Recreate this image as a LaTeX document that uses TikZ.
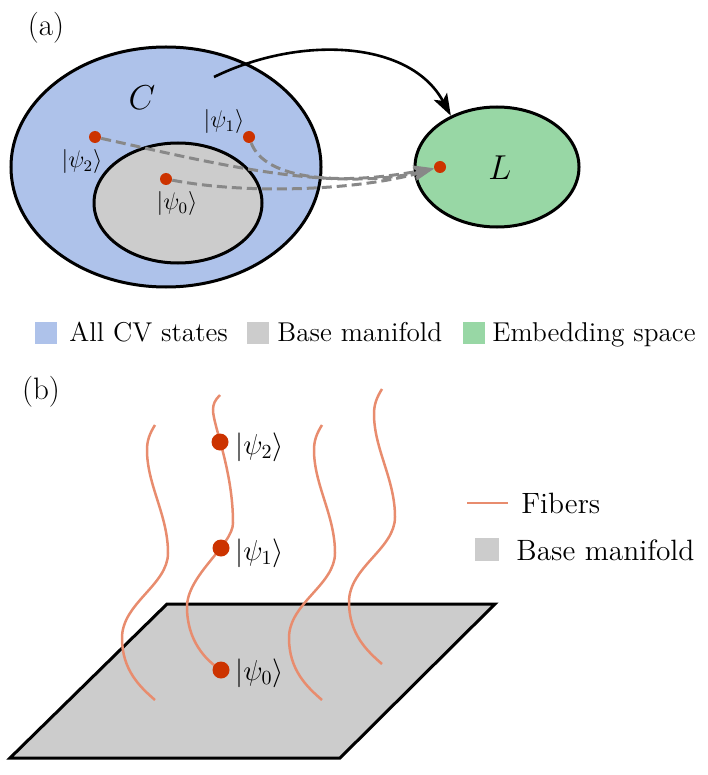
\documentclass[tikz,border=0pt]{standalone}
\usetikzlibrary{shapes.geometric,arrows.meta}
\definecolor{cvblue}{RGB}{174,194,234}
\definecolor{basegray}{RGB}{204,204,204}
\definecolor{embgreen}{RGB}{152,215,165}
\definecolor{dotred}{RGB}{204,51,0}
\definecolor{fibercol}{RGB}{232,140,110}
\definecolor{dashgray}{RGB}{136,136,136}
\tikzset{
  region/.style={ellipse, draw=black, line width=1.5pt, inner sep=0pt},
  dot/.style={circle, fill=dotred, inner sep=0pt, minimum size=#1},
  dot/.default=6pt,
  dasharrow/.style={draw=dashgray, line width=1.5pt, dash pattern=on 5pt off 2.5pt,
    -{Stealth[length=10pt,width=6.5pt,inset=2.5pt,fill=dashgray]}},
  fiberline/.style={draw=fibercol, line width=1.25pt},
  lbla/.style={font=\fontsize{12}{14}\selectfont, inner sep=1pt},
  lblb/.style={font=\fontsize{13.8}{16}\selectfont, inner sep=1pt, anchor=west},
  legtxta/.style={font=\fontsize{13.6}{16}\selectfont, inner sep=0pt, anchor=base west},
  legtxtb/.style={font=\fontsize{14.7}{17}\selectfont, inner sep=0pt, anchor=west},
  panel/.style={font=\fontsize{15.5}{17}\selectfont, inner sep=0pt},
}
\begin{document}
\begin{tikzpicture}[x=0.5pt, y=-0.5pt]
\useasboundingbox (0,0) rectangle (707,775);

% ---------------- (a) ----------------
\node[panel] (pa) at (46,28) {(a)};
\node[region, fill=cvblue, minimum width=155pt, minimum height=120pt] (C) at (166,167) {};
\node[region, fill=basegray, minimum width=84pt, minimum height=60pt] (B) at (178,203) {};
\node[region, fill=embgreen, minimum width=82pt, minimum height=60pt] (L) at (497,167) {};

\node[font=\fontsize{16}{18}\selectfont] (Ct) at (142,98) {$C$};
\node[font=\fontsize{16}{18}\selectfont] (Lt) at (500,168) {$L$};

\node[dot] (p2) at (95,137) {};
\node[dot] (p1) at (249,137) {};
\node[dot] (p0) at (166,179) {};
\node[dot] (pL) at (440,167) {};

\node[lbla] (l1) at (224,122) {$|\psi_1\rangle$};
\node[lbla] (l2) at (82,162) {$|\psi_2\rangle$};
\node[lbla] (l0) at (177,204) {$|\psi_0\rangle$};

\draw[dasharrow] (p2) .. controls (200,160) and (330,194) .. (pL);
\draw[dasharrow] (p1) .. controls (265,180) and (340,186) .. (pL);
\draw[dasharrow] (p0) .. controls (250,195) and (360,190) .. (pL);

\coordinate (s) at (214,77);
\draw[line width=1.3pt, -{Stealth[length=11pt,width=7.5pt,inset=2.5pt]}] (s) .. controls (300,35) and (410,40) .. (L.132);

% legend (a)
\fill[cvblue] (35,322) rectangle (57,344);
\node[legtxta] (ta1) at (69,341.5) {All CV states};
\fill[basegray] (247,322) rectangle (269,344);
\node[legtxta] (ta2) at (277,341.5) {Base manifold};
\fill[embgreen] (463,322) rectangle (485,344);
\node[legtxta] (ta3) at (492,341.5) {Embedding space};

% ---------------- (b) ----------------
\node[panel] (pb) at (41,392) {(b)};
\draw[fill=basegray, line width=1.5pt, line join=miter] (10,758) -- (340,758) -- (495,604) -- (167,604) -- cycle;

\foreach \sx/\sy in {155/425, 322/425, 382/389}{
  \begin{scope}[shift={(\sx,\sy)}]
    \draw[fiberline] (0,0) .. controls (-5,8) and (-8,15) .. (-8,25)
      .. controls (-8,60) and (13,90) .. (13,128)
      .. controls (13,160) and (-33,178) .. (-33,213)
      .. controls (-33,245) and (-15,262) .. (0,275);
  \end{scope}
}
\draw[fiberline] (220,395) .. controls (215,400) and (213,404) .. (213,410)
  .. controls (213,425) and (233,470) .. (233,523)
  .. controls (233,545) and (187,575) .. (187,607)
  .. controls (187,640) and (205,660) .. (221,670);
\node[dot=8.5pt] (q2) at (220,442) {};
\node[dot=8.5pt] (q1) at (221,548) {};
\node[dot=8.5pt] (q0) at (221,670) {};
\node[lblb] (m2) at (233,447) {$|\psi_2\rangle$};
\node[lblb] (m1) at (233,553) {$|\psi_1\rangle$};
\node[lblb] (m0) at (233,673) {$|\psi_0\rangle$};

% legend (b)
\coordinate (f1) at (467,503);
\coordinate (f2) at (508,503);
\draw[fiberline] (f1) -- (f2);
\node[legtxtb] (tb1) at (521,503) {Fibers};
\fill[basegray] (475,538) rectangle (499,561);
\node[legtxtb] (tb2) at (516,550) {Base manifold};
\end{tikzpicture}
\end{document}
